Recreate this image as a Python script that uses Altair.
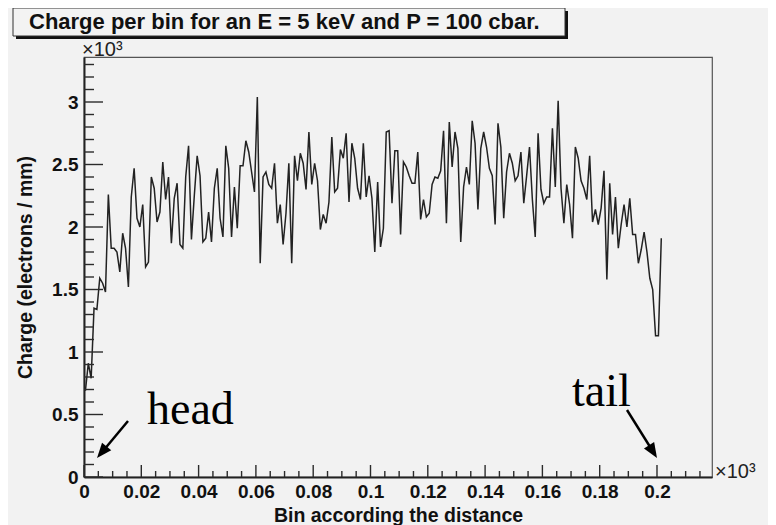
import altair as alt
import pandas as pd

# Charge per bin (x10^3 electrons / mm), one value per bin
charge = [
    0.69, 0.91, 0.79, 1.35, 1.34, 1.59, 1.55, 1.48, 2.26, 1.83,
    1.83, 1.80, 1.64, 1.95, 1.83, 1.52, 2.24, 2.47, 2.07, 2.00,
    2.18, 1.68, 1.72, 2.40, 2.31, 2.04, 2.12, 2.52, 2.22, 2.40,
    1.87, 2.23, 2.35, 1.86, 1.83, 2.40, 2.65, 1.90, 2.25, 2.57,
    2.41, 1.88, 1.91, 2.12, 1.88,
    2.31, 2.47, 2.07, 1.92, 2.65, 2.47, 1.92, 2.32, 1.99, 2.49,
    2.49, 2.69, 2.60, 2.44, 2.28, 3.04, 1.71, 2.40, 2.44, 2.34,
    2.31, 2.51, 2.03, 2.18, 1.86, 2.11, 2.51, 1.71, 2.57, 2.37,
    2.59, 2.51, 2.30, 2.76, 2.34, 2.51, 2.37, 1.98, 2.10, 2.03,
    2.20, 2.72, 2.28,
    2.31, 2.62, 2.55, 2.75, 2.20, 2.67, 2.55, 2.31, 2.22, 2.67,
    2.24, 2.41, 2.23, 1.80, 2.36, 1.84, 1.99, 2.76, 2.77, 2.19,
    2.61, 2.61, 1.94, 2.52, 2.48, 2.41, 2.35, 2.35, 2.60, 2.06,
    2.22, 2.08, 2.11, 2.34, 2.40, 2.39, 2.45, 2.77, 2.03, 2.84,
    2.48, 2.76, 2.63, 1.88,
    2.32, 2.48, 2.34, 2.85, 2.67, 2.14, 2.63, 2.76, 2.64, 2.47,
    2.41, 2.02, 2.83, 2.64, 2.07, 2.44, 2.59, 2.51, 2.37, 2.41,
    2.60, 2.19, 2.41, 2.64, 2.22, 1.92, 2.75, 2.30, 2.19, 2.24,
    2.24, 2.79, 2.32, 3.01, 2.31, 2.03, 2.34, 2.18, 1.91, 2.64,
    2.55, 2.37, 2.31,
    2.22, 2.57, 2.04, 2.14, 2.02, 2.15, 2.45, 1.58, 2.35, 1.94,
    2.24, 1.83, 2.02, 2.18, 2.00, 2.23, 1.94, 1.94, 1.71, 1.82,
    1.96, 1.80, 1.59, 1.50, 1.13, 1.13, 1.91,
]
bin_width = 0.001  # x10^3

x_major = [0, 0.02, 0.04, 0.06, 0.08, 0.1, 0.12, 0.14, 0.16, 0.18, 0.2]
x_minor = [round(0.005 * i, 3) for i in range(1, 44) if i % 4 != 0]
y_major = [0, 0.5, 1, 1.5, 2, 2.5, 3]
y_minor = [round(0.1 * i, 1) for i in range(1, 34) if i % 5 != 0]

title_text = "Charge per bin for an E = 5 keV and P = 100 cbar."
x_title = "Bin according the distance"
y_title = "Charge (electrons / mm)"
exp_label = "\u00d710\u00b3"

W, H = 628, 420
FONT = "Liberation Sans"
INK = "#2b2b2b"

df = pd.DataFrame({
    "bin": [(i + 0.5) * bin_width for i in range(len(charge))],
    "charge": charge,
})

xscale = alt.Scale(domain=[0, 0.2192], nice=False, zero=False)
yscale = alt.Scale(domain=[0, 3.36], nice=False)

xaxis = alt.Axis(
    values=x_major, labelExpr="format(datum.value, '.2~f')",
    title=x_title, titleX=W / 2, titleY=44, titleAlign="center",
    titleBaseline="alphabetic", labelPadding=5)
yaxis = alt.Axis(
    values=y_major, labelExpr="format(datum.value, '.1~f')",
    title=y_title, titleX=-59, titleY=H / 2, titleAngle=270,
    titleAlign="center", titleBaseline="middle", labelPadding=6)

line = alt.Chart(df).mark_line(color="#222222", strokeWidth=1.5).encode(
    x=alt.X("bin:Q", scale=xscale, axis=xaxis),
    y=alt.Y("charge:Q", scale=yscale, axis=yaxis),
)

def ticks_y(vals, length):
    d = pd.DataFrame({"v": vals})
    return alt.Chart(d).mark_rule(color=INK, strokeWidth=1.4).encode(
        y=alt.Y("v:Q", scale=yscale, axis=yaxis),
        x=alt.value(0), x2=alt.value(length))

def ticks_x(vals, length):
    d = pd.DataFrame({"v": vals})
    return alt.Chart(d).mark_rule(color=INK, strokeWidth=1.4).encode(
        x=alt.X("v:Q", scale=xscale, axis=xaxis),
        y=alt.value(H), y2=alt.value(H - length))

one = pd.DataFrame({"a": [0]})

def txt(s, x, y, size, font=FONT, weight="normal", color="#111", align="left", baseline="alphabetic"):
    return alt.Chart(one).mark_text(
        text=s, font=font, fontSize=size, fontWeight=weight, color=color,
        align=align, baseline=baseline).encode(x=alt.value(x), y=alt.value(y))

def box(x, x2, y, y2, fill, stroke=None):
    kw = dict(fill=fill)
    if stroke:
        kw.update(stroke=stroke, strokeWidth=1)
    return alt.Chart(one).mark_rect(**kw).encode(
        x=alt.value(x), x2=alt.value(x2), y=alt.value(y), y2=alt.value(y2))

ARROW = "M0,0L-0.4,1L0.4,1Z"
head_ax = alt.Chart(one).mark_rule(color="#000", strokeWidth=2.5).encode(
    x=alt.value(44), y=alt.value(364), x2=alt.value(19), y2=alt.value(394))
head_ah = alt.Chart(one).mark_point(
    shape=ARROW, filled=True, size=900, angle=220,
    color="#000", opacity=1).encode(x=alt.value(13), y=alt.value(401))
tail_ax = alt.Chart(one).mark_rule(color="#000", strokeWidth=2.5).encode(
    x=alt.value(543), y=alt.value(353), x2=alt.value(568), y2=alt.value(393))
tail_ah = alt.Chart(one).mark_point(
    shape=ARROW, filled=True, size=900, angle=148,
    color="#000", opacity=1).encode(x=alt.value(573), y=alt.value(401))

chart = alt.layer(
    line,
    ticks_y(y_minor, 10), ticks_y(y_major, 19),
    ticks_x(x_minor, 6), ticks_x(x_major, 12),
    box(-68, 484, -46, -18, "#111"),
    box(-71, 481, -49, -21, "#f3f3f3", "#333"),
    txt(title_text, -55, -28, 22, weight="bold"),
    txt(exp_label, -2, -1, 20, color="#222"),
    txt(exp_label, 631, 421, 20, color="#222"),
    txt("head", 63, 367, 46, font="Liberation Serif", color="#000"),
    txt("tail", 488, 349, 46, font="Liberation Serif", color="#000"),
    head_ax, head_ah, tail_ax, tail_ah,
).properties(
    width=W, height=H,
    autosize=alt.AutoSizeParams(type="none"),
    padding={"left": 76, "top": 49, "right": 56, "bottom": 48},
).configure(
    background="#f2f2f2",
).configure_view(
    stroke="#555555", strokeWidth=1.2, fill="#f2f2f2",
).configure_axis(
    domain=True, domainColor="#222", domainWidth=2, ticks=False, tickSize=0,
    grid=False, labelFont=FONT, labelFontWeight="bold", labelFontSize=19,
    labelColor="#111", labelOverlap=False, labelFlush=False,
    titleFont=FONT, titleFontWeight="bold", titleFontSize=19.5, titleColor="#111",
)

chart.save("out.html", embed_options={"renderer": "svg", "actions": False})
